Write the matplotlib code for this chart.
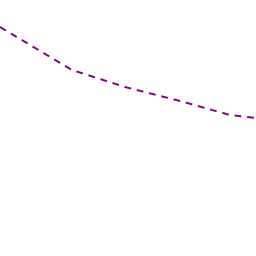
import matplotlib
matplotlib.use("Agg")
import matplotlib.pyplot as plt

x = [0, 72, 125, 180, 230, 256]
y = [27, 70, 87, 101, 115, 118]

fig = plt.figure(figsize=(2.56, 2.56), dpi=100)
ax = fig.add_axes([0, 0, 1, 1])
ax.plot(x, y, color="#800080", linewidth=1.4, linestyle=(0, (3.5, 3)))
ax.set_xlim(0, 256)
ax.set_ylim(256, 0)
ax.axis("off")
fig.savefig("out.png", dpi=100, facecolor="white")
